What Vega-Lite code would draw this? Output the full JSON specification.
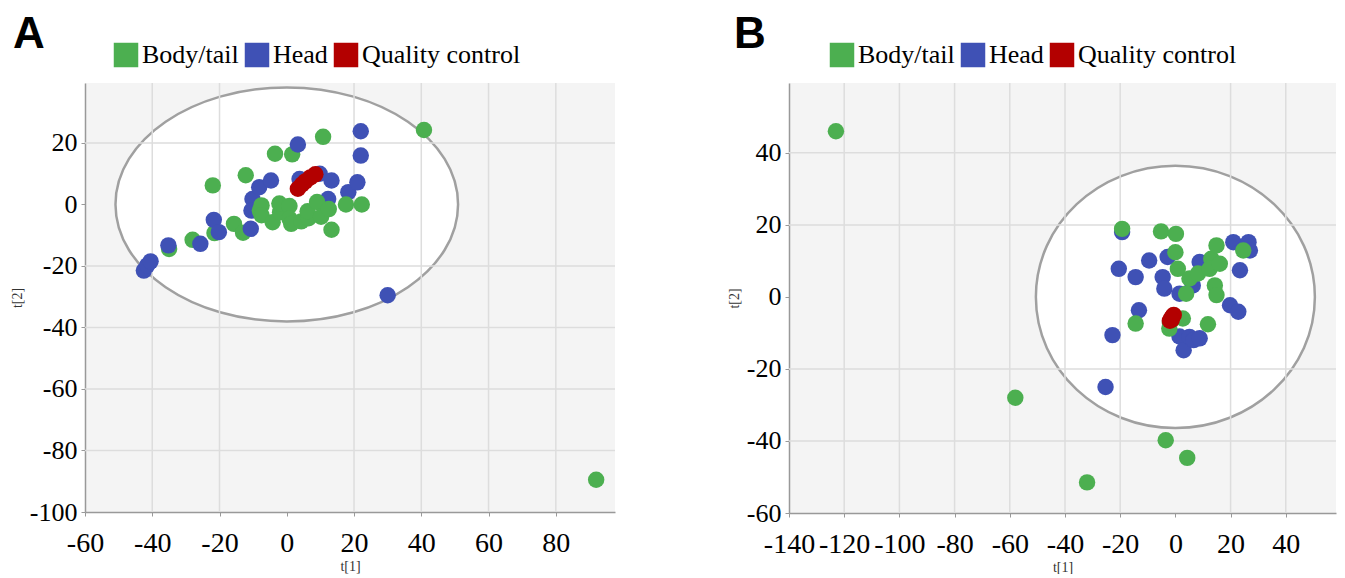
{
  "$schema": "https://vega.github.io/schema/vega-lite/v6.json",
  "padding": {"left": 10, "top": 13, "right": 0, "bottom": 0},
  "background": "white",
  "spacing": 111,
  "config": {
    "view": {"fill": "#f4f4f4", "stroke": null},
    "axis": {"grid": false, "domainColor": "#999999", "domainWidth": 1.5, "tickColor": "#999999", "tickSize": 4, "tickWidth": 1, "labelFont": "Liberation Serif", "labelFontSize": 26, "labelColor": "#000000", "titleFont": "Liberation Serif", "titleFontSize": 14, "titleFontWeight": "normal", "titleColor": "#333333", "labelOverlap": false, "labelFlush": false},
    "axisX": {"labelPadding": 13, "titlePadding": 2, "labelFontSize": 28},
    "axisY": {"labelPadding": 4, "titlePadding": 5},
    "title": {"font": "Liberation Sans", "fontSize": 44, "fontWeight": "bold", "anchor": "start", "frame": "group", "color": "#000000", "baseline": "alphabetic"},
    "legend": {"orient": "none", "direction": "horizontal", "symbolType": "square", "symbolSize": 600, "symbolStrokeWidth": 0, "symbolOpacity": 1, "labelFont": "Liberation Serif", "labelFontSize": 26, "labelColor": "#000000", "labelOffset": 3, "columnPadding": 5, "padding": 0}
  },
  "resolve": {"scale": {"color": "independent"}, "legend": {"color": "independent"}},
  "hconcat": [
    {
      "width": 530,
      "height": 429,
      "title": {"text": "A", "dx": -72, "offset": -15},
      "layer": [
        {
          "data": {"values": [{"t1": 0, "t2": 0}]},
          "mark": {"type": "point", "shape": "M -1 0 A 1 0.683 0 1 1 1 0 A 1 0.683 0 1 1 -1 0 Z", "size": 117375, "filled": true, "fill": "white", "stroke": "#a0a0a0", "strokeWidth": 2.5, "opacity": 1},
          "encoding": {
            "x": {"field": "t1", "type": "quantitative", "scale": {"domain": [-60, 97.6], "nice": false, "zero": false},
              "axis": {"title": "t[1]", "values": [-60,-55,-50,-45,-40,-35,-30,-25,-20,-15,-10,-5,0,5,10,15,20,25,30,35,40,45,50,55,60,65,70,75,80,85,90,95], "labelExpr": "datum.value % 20 === 0 ? '' + datum.value : ''"}},
            "y": {"field": "t2", "type": "quantitative", "scale": {"domain": [-100, 39.5], "nice": false, "zero": false},
              "axis": {"title": "t[2]", "values": [-100,-95,-90,-85,-80,-75,-70,-65,-60,-55,-50,-45,-40,-35,-30,-25,-20,-15,-10,-5,0,5,10,15,20,25,30,35], "labelExpr": "datum.value % 20 === 0 ? '' + datum.value : ''"}}
          }
        },
        {
          "data": {"values": [{"t1": -40}, {"t1": -20}, {"t1": 20}, {"t1": 40}, {"t1": 60}, {"t1": 80}]},
          "mark": {"type": "rule", "color": "#dddddd", "strokeWidth": 1.5},
          "encoding": {"x": {"field": "t1", "type": "quantitative"}}
        },
        {
          "data": {"values": [{"t2": 20}, {"t2": -20}, {"t2": -40}, {"t2": -60}, {"t2": -80}]},
          "mark": {"type": "rule", "color": "#dddddd", "strokeWidth": 1.5},
          "encoding": {"y": {"field": "t2", "type": "quantitative"}}
        },
        {
          "mark": {"type": "rule", "color": "#999999", "strokeWidth": 1.8},
          "encoding": {"x": {"datum": 0, "type": "quantitative"}}
        },
        {
          "mark": {"type": "rule", "color": "#999999", "strokeWidth": 1.8},
          "encoding": {"y": {"datum": 0, "type": "quantitative"}}
        },
        {
          "data": {"values": [
            {"t1": -35, "t2": -14.5, "grp": "Body/tail"},
            {"t1": -28, "t2": -11.5, "grp": "Body/tail"},
            {"t1": -22, "t2": 6.2, "grp": "Body/tail"},
            {"t1": -21.5, "t2": -9.3, "grp": "Body/tail"},
            {"t1": -15.7, "t2": -6.3, "grp": "Body/tail"},
            {"t1": -13, "t2": -9.2, "grp": "Body/tail"},
            {"t1": -12.2, "t2": 9.5, "grp": "Body/tail"},
            {"t1": -3.5, "t2": 16.5, "grp": "Body/tail"},
            {"t1": 1.6, "t2": 16.3, "grp": "Body/tail"},
            {"t1": 10.8, "t2": 22, "grp": "Body/tail"},
            {"t1": 40.8, "t2": 24.2, "grp": "Body/tail"},
            {"t1": 92, "t2": -89.5, "grp": "Body/tail"},
            {"t1": -42.5, "t2": -21.5, "grp": "Head"},
            {"t1": -41.5, "t2": -19.8, "grp": "Head"},
            {"t1": -40.5, "t2": -18.5, "grp": "Head"},
            {"t1": -35.2, "t2": -13.3, "grp": "Head"},
            {"t1": -25.7, "t2": -12.8, "grp": "Head"},
            {"t1": -21.7, "t2": -5, "grp": "Head"},
            {"t1": -20.2, "t2": -9, "grp": "Head"},
            {"t1": -10.7, "t2": -7.9, "grp": "Head"},
            {"t1": -10.2, "t2": 1.8, "grp": "Head"},
            {"t1": -10.5, "t2": -2, "grp": "Head"},
            {"t1": -8.2, "t2": 5.6, "grp": "Head"},
            {"t1": -4.7, "t2": 7.8, "grp": "Head"},
            {"t1": 3.3, "t2": 19.5, "grp": "Head"},
            {"t1": 3.8, "t2": 8.3, "grp": "Head"},
            {"t1": 9.8, "t2": 10, "grp": "Head"},
            {"t1": 13.3, "t2": 7.8, "grp": "Head"},
            {"t1": 12.3, "t2": 1.8, "grp": "Head"},
            {"t1": 18.3, "t2": 4, "grp": "Head"},
            {"t1": 21, "t2": 7.2, "grp": "Head"},
            {"t1": 22, "t2": 15.9, "grp": "Head"},
            {"t1": 22, "t2": 23.8, "grp": "Head"},
            {"t1": 30, "t2": -29.5, "grp": "Head"},
            {"t1": -8, "t2": -2, "grp": "Body/tail"},
            {"t1": -7.5, "t2": -0.3, "grp": "Body/tail"},
            {"t1": -7.5, "t2": -3.5, "grp": "Body/tail"},
            {"t1": -4.2, "t2": -5.8, "grp": "Body/tail"},
            {"t1": -2, "t2": -2.5, "grp": "Body/tail"},
            {"t1": -2.2, "t2": 0.3, "grp": "Body/tail"},
            {"t1": 0.8, "t2": -0.5, "grp": "Body/tail"},
            {"t1": 0.8, "t2": -4.6, "grp": "Body/tail"},
            {"t1": 1.3, "t2": -6.3, "grp": "Body/tail"},
            {"t1": 4.3, "t2": -5.5, "grp": "Body/tail"},
            {"t1": 6.5, "t2": -4.5, "grp": "Body/tail"},
            {"t1": 6.2, "t2": -2.2, "grp": "Body/tail"},
            {"t1": 9, "t2": 0.8, "grp": "Body/tail"},
            {"t1": 10.2, "t2": -4, "grp": "Body/tail"},
            {"t1": 12.5, "t2": -1.5, "grp": "Body/tail"},
            {"t1": 13.3, "t2": -8.2, "grp": "Body/tail"},
            {"t1": 17.6, "t2": 0, "grp": "Body/tail"},
            {"t1": 22.3, "t2": 0, "grp": "Body/tail"},
            {"t1": 3.3, "t2": 5.1, "grp": "Quality control"},
            {"t1": 4.5, "t2": 6.5, "grp": "Quality control"},
            {"t1": 5.5, "t2": 7.5, "grp": "Quality control"},
            {"t1": 7, "t2": 8.8, "grp": "Quality control"},
            {"t1": 8.5, "t2": 9.8, "grp": "Quality control"}
          ]},
          "mark": {"type": "circle", "size": 270, "opacity": 1},
          "encoding": {
            "x": {"field": "t1", "type": "quantitative"},
            "y": {"field": "t2", "type": "quantitative"},
            "color": {"field": "grp", "type": "nominal",
              "scale": {"domain": ["Body/tail", "Head", "Quality control"], "range": ["#4caf50", "#3f51b5", "#b30000"]},
              "legend": {"title": null, "legendX": 28, "legendY": -41}}
          }
        },
        {
          "mark": {"type": "point", "shape": "M -1 -0.7 L 1 0 L -1 0.7 Z", "size": 361, "filled": true, "color": "#999999", "opacity": 1},
          "encoding": {"x": {"datum": 94.8, "type": "quantitative"}, "y": {"datum": -100, "type": "quantitative"}}
        },
        {
          "mark": {"type": "point", "shape": "M -0.7 1 L 0 -1 L 0.7 1 Z", "size": 361, "filled": true, "color": "#999999", "opacity": 1},
          "encoding": {"x": {"datum": -60, "type": "quantitative"}, "y": {"datum": 36.4, "type": "quantitative"}}
        }
      ]
    },
    {
      "width": 547,
      "height": 430,
      "title": {"text": "B", "dx": -55, "offset": -15},
      "layer": [
        {
          "data": {"values": [{"t1": 0, "t2": 0}]},
          "mark": {"type": "point", "shape": "M -1 0 A 1 0.94 0 1 1 1 0 A 1 0.94 0 1 1 -1 0 Z", "size": 77841, "filled": true, "fill": "white", "stroke": "#a0a0a0", "strokeWidth": 2.5, "opacity": 1},
          "encoding": {
            "x": {"field": "t1", "type": "quantitative", "scale": {"domain": [-140, 58.2], "nice": false, "zero": false},
              "axis": {"title": "t[1]", "values": [-140,-135,-130,-125,-120,-115,-110,-105,-100,-95,-90,-85,-80,-75,-70,-65,-60,-55,-50,-45,-40,-35,-30,-25,-20,-15,-10,-5,0,5,10,15,20,25,30,35,40,45,50,55], "labelExpr": "datum.value % 20 === 0 ? '' + datum.value : ''"}},
            "y": {"field": "t2", "type": "quantitative", "scale": {"domain": [-60, 59.4], "nice": false, "zero": false},
              "axis": {"title": "t[2]", "values": [-60,-55,-50,-45,-40,-35,-30,-25,-20,-15,-10,-5,0,5,10,15,20,25,30,35,40,45,50,55], "labelExpr": "datum.value % 20 === 0 ? '' + datum.value : ''"}}
          }
        },
        {
          "data": {"values": [{"t1": -120}, {"t1": -100}, {"t1": -80}, {"t1": -60}, {"t1": -40}, {"t1": -20}, {"t1": 20}, {"t1": 40}]},
          "mark": {"type": "rule", "color": "#dddddd", "strokeWidth": 1.5},
          "encoding": {"x": {"field": "t1", "type": "quantitative"}}
        },
        {
          "data": {"values": [{"t2": 40}, {"t2": 20}, {"t2": -20}, {"t2": -40}]},
          "mark": {"type": "rule", "color": "#dddddd", "strokeWidth": 1.5},
          "encoding": {"y": {"field": "t2", "type": "quantitative"}}
        },
        {
          "mark": {"type": "rule", "color": "#999999", "strokeWidth": 1.8},
          "encoding": {"x": {"datum": 0, "type": "quantitative"}}
        },
        {
          "mark": {"type": "rule", "color": "#999999", "strokeWidth": 1.8},
          "encoding": {"y": {"datum": 0, "type": "quantitative"}}
        },
        {
          "data": {"values": [
            {"t1": -25.3, "t2": -25, "grp": "Head"},
            {"t1": -22.8, "t2": -10.6, "grp": "Head"},
            {"t1": -20.5, "t2": 7.8, "grp": "Head"},
            {"t1": -19.3, "t2": 18, "grp": "Head"},
            {"t1": -14.4, "t2": 5.5, "grp": "Head"},
            {"t1": -13.2, "t2": -3.7, "grp": "Head"},
            {"t1": -9.5, "t2": 10.1, "grp": "Head"},
            {"t1": -4.6, "t2": 5.5, "grp": "Head"},
            {"t1": -4, "t2": 2.3, "grp": "Head"},
            {"t1": -2.8, "t2": 11.1, "grp": "Head"},
            {"t1": 1.5, "t2": 0.9, "grp": "Head"},
            {"t1": 6.3, "t2": 3.2, "grp": "Head"},
            {"t1": 8.8, "t2": 9.7, "grp": "Head"},
            {"t1": 1.5, "t2": -11, "grp": "Head"},
            {"t1": 3, "t2": -14.8, "grp": "Head"},
            {"t1": 5.1, "t2": -11.1, "grp": "Head"},
            {"t1": 6.6, "t2": -12, "grp": "Head"},
            {"t1": 8.8, "t2": -11.5, "grp": "Head"},
            {"t1": 19.8, "t2": -2.3, "grp": "Head"},
            {"t1": 22.8, "t2": -4.1, "grp": "Head"},
            {"t1": 23.4, "t2": 7.4, "grp": "Head"},
            {"t1": 21, "t2": 15.2, "grp": "Head"},
            {"t1": 26.5, "t2": 15.2, "grp": "Head"},
            {"t1": 27, "t2": 12.9, "grp": "Head"},
            {"t1": -123, "t2": 46, "grp": "Body/tail"},
            {"t1": -58, "t2": -28, "grp": "Body/tail"},
            {"t1": -32, "t2": -51.5, "grp": "Body/tail"},
            {"t1": -19.3, "t2": 18.9, "grp": "Body/tail"},
            {"t1": -14.4, "t2": -7.4, "grp": "Body/tail"},
            {"t1": -5.2, "t2": 18.2, "grp": "Body/tail"},
            {"t1": -3.5, "t2": -39.8, "grp": "Body/tail"},
            {"t1": -2.2, "t2": -8.8, "grp": "Body/tail"},
            {"t1": -2, "t2": -7.2, "grp": "Body/tail"},
            {"t1": 0.2, "t2": 17.5, "grp": "Body/tail"},
            {"t1": 0, "t2": 12.4, "grp": "Body/tail"},
            {"t1": 0.9, "t2": 7.8, "grp": "Body/tail"},
            {"t1": 3.9, "t2": 0.9, "grp": "Body/tail"},
            {"t1": 5.1, "t2": 5.1, "grp": "Body/tail"},
            {"t1": 8.2, "t2": 6.5, "grp": "Body/tail"},
            {"t1": 2.7, "t2": -6, "grp": "Body/tail"},
            {"t1": 4.3, "t2": -44.7, "grp": "Body/tail"},
            {"t1": 11.8, "t2": -7.6, "grp": "Body/tail"},
            {"t1": 13, "t2": 10.6, "grp": "Body/tail"},
            {"t1": 12.4, "t2": 7.8, "grp": "Body/tail"},
            {"t1": 14.9, "t2": 14.3, "grp": "Body/tail"},
            {"t1": 16.1, "t2": 9.2, "grp": "Body/tail"},
            {"t1": 14.3, "t2": 3.2, "grp": "Body/tail"},
            {"t1": 14.9, "t2": 0.5, "grp": "Body/tail"},
            {"t1": 24.6, "t2": 12.9, "grp": "Body/tail"},
            {"t1": -2, "t2": -6.6, "grp": "Quality control"},
            {"t1": -1.6, "t2": -6, "grp": "Quality control"},
            {"t1": -1, "t2": -5.4, "grp": "Quality control"},
            {"t1": -0.6, "t2": -5, "grp": "Quality control"},
            {"t1": -1.3, "t2": -6.3, "grp": "Quality control"}
          ]},
          "mark": {"type": "circle", "size": 270, "opacity": 1},
          "encoding": {
            "x": {"field": "t1", "type": "quantitative"},
            "y": {"field": "t2", "type": "quantitative"},
            "color": {"field": "grp", "type": "nominal",
              "scale": {"domain": ["Body/tail", "Head", "Quality control"], "range": ["#4caf50", "#3f51b5", "#b30000"]},
              "legend": {"title": null, "legendX": 40, "legendY": -41}}
          }
        },
        {
          "mark": {"type": "point", "shape": "M -1 -0.7 L 1 0 L -1 0.7 Z", "size": 361, "filled": true, "color": "#999999", "opacity": 1},
          "encoding": {"x": {"datum": 54.8, "type": "quantitative"}, "y": {"datum": -60, "type": "quantitative"}}
        },
        {
          "mark": {"type": "point", "shape": "M -0.7 1 L 0 -1 L 0.7 1 Z", "size": 361, "filled": true, "color": "#999999", "opacity": 1},
          "encoding": {"x": {"datum": -140, "type": "quantitative"}, "y": {"datum": 56.8, "type": "quantitative"}}
        }
      ]
    }
  ]
}
